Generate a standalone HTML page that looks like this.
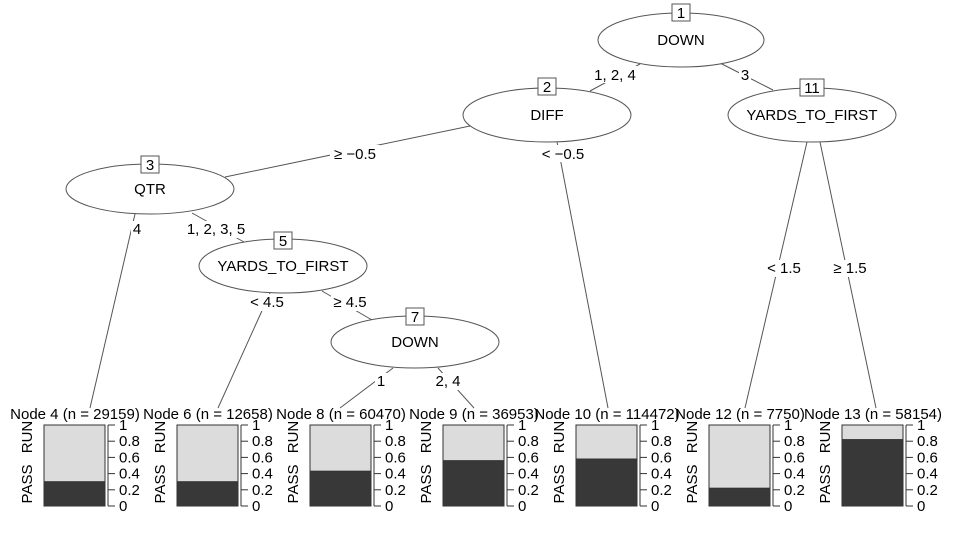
<!DOCTYPE html>
<html><head><meta charset="utf-8"><style>
html,body{margin:0;padding:0;background:#fff}
svg text{font-family:"Liberation Sans",Arial,sans-serif;font-size:15px;fill:#000}
</style></head><body>
<svg width="963" height="550" viewBox="0 0 963 550" xmlns="http://www.w3.org/2000/svg">
<g stroke="#555" stroke-width="1" fill="none">
<line x1="640" y1="64" x2="590" y2="91"/>
<line x1="720" y1="63" x2="773" y2="90"/>
<line x1="470" y1="126" x2="225" y2="177"/>
<line x1="557" y1="142" x2="608" y2="408"/>
<line x1="807" y1="142" x2="745" y2="408"/>
<line x1="820" y1="142" x2="876" y2="408"/>
<line x1="135" y1="214" x2="90" y2="408"/>
<line x1="192" y1="213" x2="244" y2="242"/>
<line x1="270" y1="293" x2="218" y2="408"/>
<line x1="322" y1="291" x2="372" y2="320"/>
<line x1="393" y1="368" x2="340" y2="408"/>
<line x1="438" y1="368" x2="474" y2="408"/>
</g>
<g>
<rect x="593" y="66" width="44" height="17" fill="#fff"/><text x="615" y="80" text-anchor="middle">1, 2, 4</text>
<rect x="739" y="67" width="12" height="17" fill="#fff"/><text x="745" y="80" text-anchor="middle">3</text>
<rect x="330" y="145" width="50" height="17" fill="#fff"/><text x="355" y="159" text-anchor="middle">≥ −0.5</text>
<rect x="538" y="145" width="50" height="17" fill="#fff"/><text x="563" y="159" text-anchor="middle">&lt; −0.5</text>
<rect x="765" y="260" width="38" height="17" fill="#fff"/><text x="784" y="273" text-anchor="middle">&lt; 1.5</text>
<rect x="831" y="260" width="38" height="17" fill="#fff"/><text x="850" y="273" text-anchor="middle">≥ 1.5</text>
<rect x="131" y="221" width="12" height="17" fill="#fff"/><text x="137" y="234" text-anchor="middle">4</text>
<rect x="185" y="221" width="62" height="17" fill="#fff"/><text x="216" y="234" text-anchor="middle">1, 2, 3, 5</text>
<rect x="248" y="294" width="38" height="17" fill="#fff"/><text x="267" y="307" text-anchor="middle">&lt; 4.5</text>
<rect x="331" y="294" width="38" height="17" fill="#fff"/><text x="350" y="307" text-anchor="middle">≥ 4.5</text>
<rect x="375" y="373" width="12" height="17" fill="#fff"/><text x="381" y="386" text-anchor="middle">1</text>
<rect x="433" y="373" width="30" height="17" fill="#fff"/><text x="448" y="386" text-anchor="middle">2, 4</text>
</g>
<g stroke="#555" fill="#fff">
<ellipse cx="681" cy="40" rx="83" ry="27"/>
<ellipse cx="547" cy="115" rx="84" ry="27"/>
<ellipse cx="812" cy="115" rx="84" ry="27"/>
<ellipse cx="150" cy="189" rx="84" ry="25"/>
<ellipse cx="283" cy="266" rx="84" ry="27"/>
<ellipse cx="415" cy="342" rx="84" ry="26"/>
<rect x="672" y="4" width="18" height="17"/>
<rect x="538" y="78" width="18" height="17"/>
<rect x="800" y="79" width="24" height="17"/>
<rect x="141" y="156" width="18" height="17"/>
<rect x="274" y="232" width="18" height="17"/>
<rect x="406" y="308" width="18" height="17"/>
</g>
<g text-anchor="middle">
<text x="681" y="18">1</text><text x="681" y="45">DOWN</text>
<text x="547" y="92">2</text><text x="547" y="120">DIFF</text>
<text x="812" y="93">11</text><text x="812" y="120">YARDS_TO_FIRST</text>
<text x="150" y="170">3</text><text x="150" y="194">QTR</text>
<text x="283" y="246">5</text><text x="283" y="271">YARDS_TO_FIRST</text>
<text x="415" y="322">7</text><text x="415" y="347">DOWN</text>
</g>
<g id="panels"></g>
</svg>
<script>
var P=[["Node 4 (n = 29159)",0.30],["Node 6 (n = 12658)",0.30],["Node 8 (n = 60470)",0.43],["Node 9 (n = 36953)",0.56],["Node 10 (n = 114472)",0.58],["Node 12 (n = 7750)",0.22],["Node 13 (n = 58154)",0.82]];
var g=document.getElementById('panels'),s='';
for(var i=0;i<7;i++){var x=44+133*i,t=425,b=506,h=b-t,d=b-h*P[i][1];
s+='<text x="'+(x+31)+'" y="419" text-anchor="middle">'+P[i][0]+'</text>';
s+='<rect x="'+x+'" y="'+t+'" width="61" height="'+h+'" fill="#dcdcdc" stroke="#333"/>';
s+='<rect x="'+x+'" y="'+d+'" width="61" height="'+(b-d)+'" fill="#383838" stroke="#333"/>';
var ax=x+64;s+='<line x1="'+ax+'" y1="'+t+'" x2="'+ax+'" y2="'+b+'" stroke="#333"/>';
for(var k=0;k<=5;k++){var y=b-h*k/5;s+='<line x1="'+ax+'" y1="'+y+'" x2="'+(ax+7)+'" y2="'+y+'" stroke="#333"/>';
s+='<text x="'+(ax+11)+'" y="'+(y+5)+'">'+(k==0?'0':k==5?'1':'0.'+(2*k))+'</text>';}
s+='<text transform="translate('+(x-12)+',484) rotate(-90)" text-anchor="middle">PASS</text>';
s+='<text transform="translate('+(x-12)+',437) rotate(-90)" text-anchor="middle">RUN</text>';}
g.innerHTML=s;
</script>
</body></html>
